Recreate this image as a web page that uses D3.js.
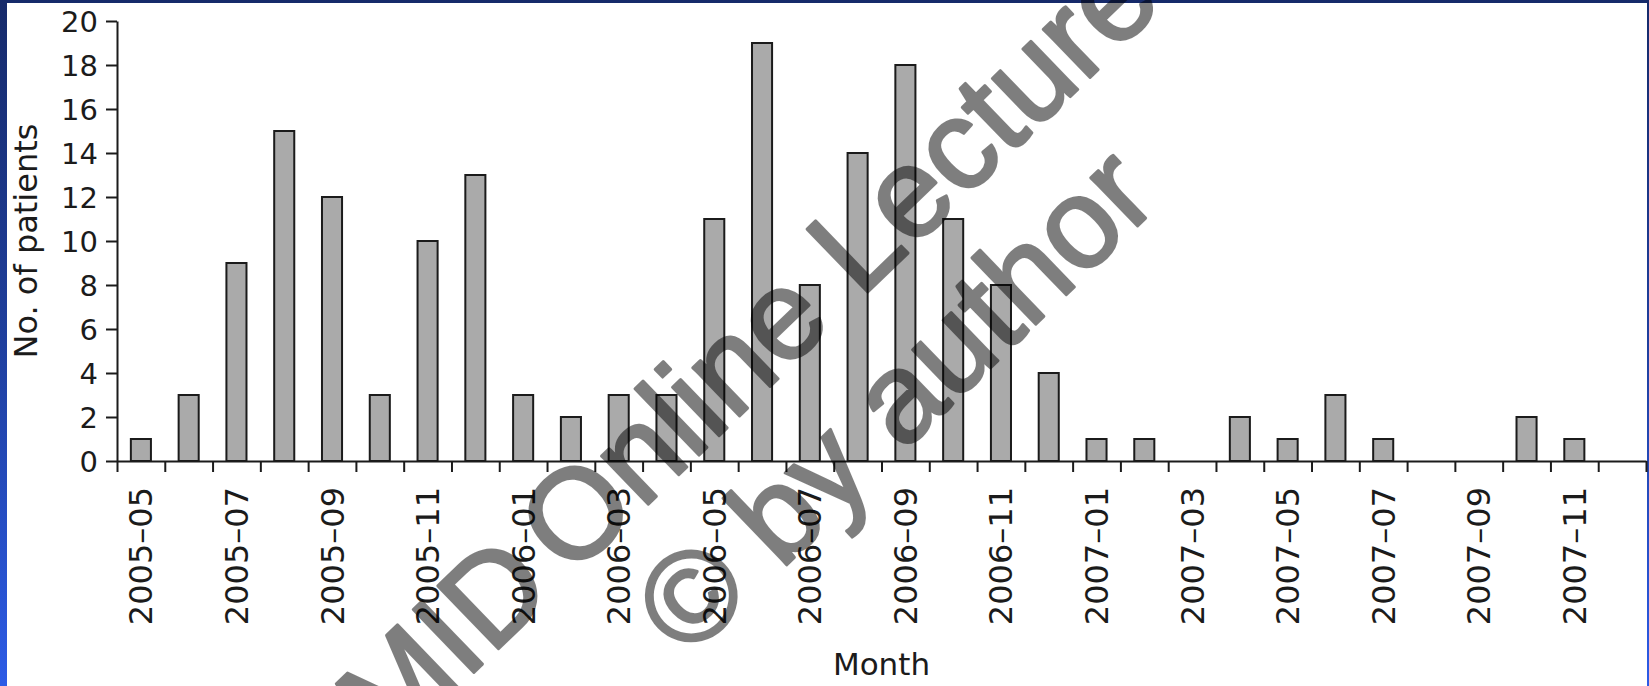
<!DOCTYPE html>
<html>
<head>
<meta charset="utf-8">
<script src="https://cdn.jsdelivr.net/npm/d3@7"></script>
<style>
  html, body { margin: 0; padding: 0; }
  body {
    width: 1649px; height: 686px; overflow: hidden;
    background: linear-gradient(to bottom, #162a6a 0%, #1f3f9e 50%, #2c5be6 100%);
  }
  svg { display: block; }
</style>
</head>
<body>
<svg id="chart" width="1649" height="686"></svg>
<script>
// Monthly case counts, May 2005 – Dec 2007
const months = [
  "2005–05", "2005–06", "2005–07", "2005–08", "2005–09", "2005–10", "2005–11", "2005–12",
  "2006–01", "2006–02", "2006–03", "2006–04", "2006–05", "2006–06", "2006–07", "2006–08",
  "2006–09", "2006–10", "2006–11", "2006–12", "2007–01", "2007–02", "2007–03", "2007–04",
  "2007–05", "2007–06", "2007–07", "2007–08", "2007–09", "2007–10", "2007–11", "2007–12"
];
const patients = [
  1, 3, 9, 15, 12, 3, 10, 13,
  3, 2, 3, 3, 11, 19, 8, 14,
  18, 11, 8, 4, 1, 1, 0, 2,
  1, 3, 1, 0, 0, 2, 1, 0
];
const monthLabels = [
  "2005–05", "2005–07", "2005–09", "2005–11", "2006–01", "2006–03", "2006–05", "2006–07",
  "2006–09", "2006–11", "2007–01", "2007–03", "2007–05", "2007–07", "2007–09", "2007–11"
];
const yTicks = [0, 2, 4, 6, 8, 10, 12, 14, 16, 18, 20];

const svg = d3.select("#chart");
const font = "'DejaVu Sans', Verdana, sans-serif";
const ink = "#1b1b1b";

// white panel inside the blue frame
svg.append("rect")
  .attr("x", 7).attr("y", 3)
  .attr("width", 1640).attr("height", 683)
  .attr("fill", "#ffffff");

const plot = { left: 117, right: 1646, top: 21, bottom: 461 };

const x = d3.scaleBand()
  .domain(months)
  .range([plot.left, plot.right])
  .paddingInner(0.58)
  .paddingOuter(0.29);

// month boundaries, used for the tick marks between bars
const xEdge = d3.scaleLinear()
  .domain([0, months.length])
  .range([plot.left, plot.right]);

const y = d3.scaleLinear()
  .domain([0, 20])
  .range([plot.bottom, plot.top]);

// bars
svg.append("g")
  .selectAll("rect")
  .data(months.map((m, i) => ({ month: m, value: patients[i] })).filter(d => d.value > 0))
  .join("rect")
  .attr("x", d => x(d.month))
  .attr("y", d => y(d.value))
  .attr("width", x.bandwidth())
  .attr("height", d => y(0) - y(d.value))
  .attr("fill", "#aaaaaa")
  .attr("stroke", ink)
  .attr("stroke-width", 2);

// x axis line with boundary ticks
const xAxisEdges = svg.append("g")
  .attr("transform", `translate(0,${plot.bottom})`)
  .call(d3.axisBottom(xEdge)
    .tickValues(d3.range(months.length + 1))
    .tickFormat("")
    .tickSize(11)
    .tickSizeOuter(0));
xAxisEdges.selectAll("path, line").attr("stroke", ink).attr("stroke-width", 2);

// x labels centred under every other month
const xAxisLabels = svg.append("g")
  .attr("transform", `translate(0,${plot.bottom})`)
  .call(d3.axisBottom(x)
    .tickValues(monthLabels)
    .tickSize(0)
    .tickPadding(0));
xAxisLabels.select(".domain").remove();
xAxisLabels.selectAll("text")
  .attr("font-family", font)
  .attr("font-size", 32)
  .attr("fill", ink)
  .attr("text-anchor", "end")
  .attr("transform", "rotate(-90)")
  .attr("x", -26)
  .attr("y", 0)
  .attr("dy", "0.36em");

// y axis
const yAxis = svg.append("g")
  .attr("transform", `translate(${plot.left},0)`)
  .call(d3.axisLeft(y)
    .tickValues(yTicks)
    .tickSize(11)
    .tickSizeOuter(0)
    .tickPadding(8));
yAxis.selectAll("path, line").attr("stroke", ink).attr("stroke-width", 2);
yAxis.selectAll("text")
  .attr("font-family", font)
  .attr("font-size", 29)
  .attr("fill", ink)
  .attr("dy", "0.36em");

// axis titles
svg.append("text")
  .attr("transform", "translate(37,241) rotate(-90)")
  .attr("text-anchor", "middle")
  .attr("font-family", font)
  .attr("font-size", 32)
  .attr("fill", ink)
  .text("No. of patients");

svg.append("text")
  .attr("x", (plot.left + plot.right) / 2)
  .attr("y", 675)
  .attr("text-anchor", "middle")
  .attr("font-family", font)
  .attr("font-size", 31)
  .attr("fill", ink)
  .text("Month");

// diagonal watermark (group opacity so fill and outline blend as one layer)
const mark = svg.append("g")
  .attr("opacity", 0.5)
  .attr("font-family", "'Liberation Sans', Arial, sans-serif")
  .attr("font-size", 127)
  .attr("fill", "#000")
  .attr("stroke", "#000")
  .attr("stroke-width", 3)
  .attr("stroke-linejoin", "round");
const line1 = mark.append("text")
  .attr("transform", "translate(378,765) rotate(-44)");
line1.append("tspan").attr("dx", 16).text("MID");
line1.append("tspan").attr("dx", -16).text(" Online Lecture");
mark.append("text")
  .attr("transform", "translate(688,660) rotate(-44)")
  .text("© by author");
</script>
</body>
</html>
